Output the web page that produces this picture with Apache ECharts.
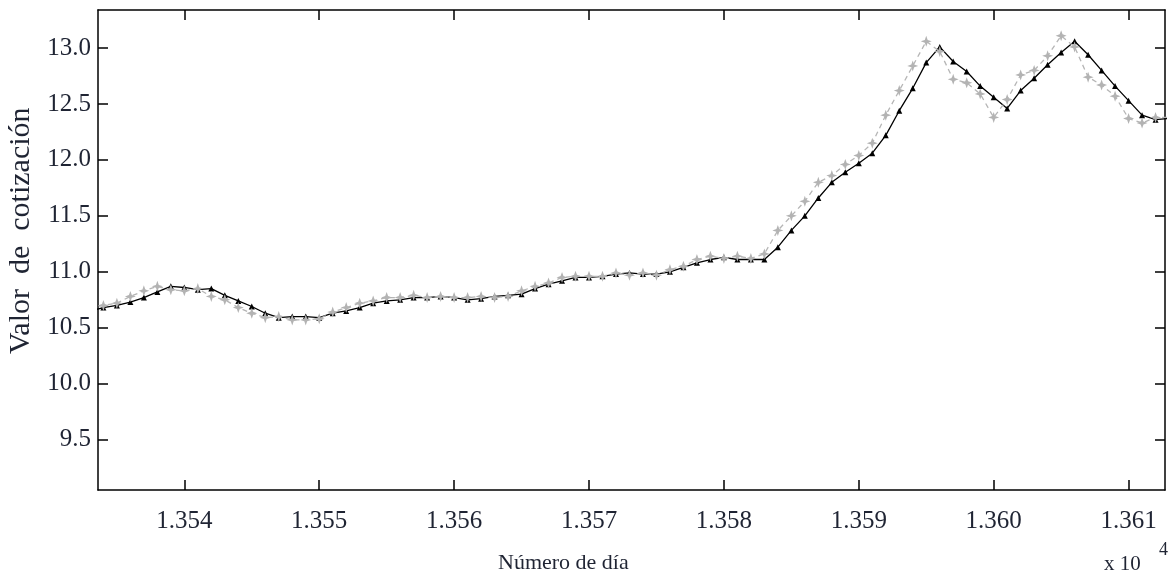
<!DOCTYPE html>
<html>
<head>
<meta charset="utf-8">
<script src="https://cdn.jsdelivr.net/npm/echarts@6/dist/echarts.min.js"></script>
<style>
html,body{margin:0;padding:0;background:#fff;}
#c{width:1175px;height:579px;}
</style>
</head>
<body>
<div id="c"></div>
<script>
// ---- data ----
const days = [
  13533,13534,13535,13536,13537,13538,13539,13540,13541,13542,
  13543,13544,13545,13546,13547,13548,13549,13550,13551,13552,
  13553,13554,13555,13556,13557,13558,13559,13560,13561,13562,
  13563,13564,13565,13566,13567,13568,13569,13570,13571,13572,
  13573,13574,13575,13576,13577,13578,13579,13580,13581,13582,
  13583,13584,13585,13586,13587,13588,13589,13590,13591,13592,
  13593,13594,13595,13596,13597,13598,13599,13600,13601,13602,
  13603,13604,13605,13606,13607,13608,13609,13610,13611,13612,
  13613
];
const realValues = [
  10.65,10.68,10.70,10.73,10.77,10.82,10.87,10.86,10.84,10.85,
  10.79,10.74,10.69,10.63,10.59,10.60,10.60,10.59,10.63,10.65,
  10.68,10.72,10.74,10.75,10.77,10.77,10.78,10.77,10.75,10.76,
  10.78,10.79,10.80,10.85,10.89,10.92,10.95,10.95,10.96,10.98,
  10.99,10.98,10.98,11.00,11.04,11.08,11.11,11.13,11.11,11.11,
  11.11,11.22,11.37,11.50,11.66,11.80,11.89,11.97,12.06,12.22,
  12.44,12.64,12.87,13.01,12.88,12.79,12.66,12.56,12.46,12.62,
  12.73,12.85,12.96,13.06,12.94,12.80,12.66,12.53,12.40,12.36,
  12.37
];
const predictedValues = [
  10.68,10.70,10.72,10.78,10.83,10.87,10.84,10.83,10.85,10.78,
  10.75,10.68,10.63,10.59,10.60,10.57,10.57,10.58,10.64,10.68,
  10.72,10.74,10.77,10.77,10.79,10.77,10.78,10.77,10.77,10.78,
  10.77,10.78,10.83,10.87,10.90,10.95,10.96,10.96,10.96,10.99,
  10.97,10.99,10.97,11.02,11.05,11.11,11.14,11.12,11.14,11.12,
  11.16,11.37,11.50,11.63,11.80,11.86,11.96,12.04,12.15,12.40,
  12.62,12.84,13.06,12.97,12.72,12.69,12.59,12.38,12.54,12.76,
  12.80,12.93,13.11,13.01,12.74,12.67,12.57,12.37,12.33,12.38,
  12.38
];
const xTickValues = [13540,13550,13560,13570,13580,13590,13600,13610];
const yTickValues = [9.5,10.0,10.5,11.0,11.5,12.0,12.5,13.0];
const xTitle = 'Número de día';
const yTitle = 'Valor  de  cotización';

// ---- chart ----
const X_MIN = 13533.6, X_MAX = 13612.7;
const Y_MIN = 9.05, Y_MAX = 13.34;
const FONT = '"Liberation Serif","Times New Roman",serif';
const TXT = '#1f2433';

const realData = days.map((d, i) => [d, realValues[i]]);
const predData = days.map((d, i) => [d, predictedValues[i]]);

const starPath = 'path://M0,-10 L2.6,-2.6 L10,0 L2.6,2.6 L0,10 L-2.6,2.6 L-10,0 L-2.6,-2.6 Z';

function xAxisCfg(pos, labels) {
  return {
    type: 'value', position: pos, min: X_MIN, max: X_MAX, splitNumber: 8,
    axisLine: { show: true, onZero: false, lineStyle: { color: '#000', width: 1.5 } },
    axisTick: { show: true, inside: true, length: 10, lineStyle: { color: '#000', width: 1.5 },
      customValues: xTickValues },
    axisLabel: { show: labels, margin: 19,
      color: TXT, fontFamily: FONT, fontSize: 25, customValues: xTickValues,
      formatter: v => (v / 10000).toFixed(3) },
    splitLine: { show: false }
  };
}
function yAxisCfg(pos, labels) {
  return {
    type: 'value', position: pos, min: Y_MIN, max: Y_MAX, splitNumber: 9,
    axisLine: { show: true, onZero: false, lineStyle: { color: '#000', width: 1.5 } },
    axisTick: { show: true, inside: true, length: 10, lineStyle: { color: '#000', width: 1.5 },
      customValues: yTickValues },
    axisLabel: { show: labels, margin: 7,
      color: TXT, fontFamily: FONT, fontSize: 25, customValues: yTickValues,
      formatter: v => v.toFixed(1) },
    splitLine: { show: false }
  };
}

const chart = echarts.init(document.getElementById('c'), null, { renderer: 'canvas' });
chart.setOption({
  animation: false,
  backgroundColor: '#fff',
  grid: { left: 98, right: 10, top: 10, bottom: 89, containLabel: false },
  xAxis: [xAxisCfg('bottom', true), xAxisCfg('top', false)],
  yAxis: [yAxisCfg('left', true), yAxisCfg('right', false)],
  series: [
    {
      type: 'line', name: 'real', data: realData, xAxisIndex: 0, yAxisIndex: 0,
      symbol: 'triangle', symbolSize: 6, showSymbol: true,
      lineStyle: { color: '#000', width: 1.3 },
      itemStyle: { color: '#000' }, z: 2, clip: true
    },
    {
      type: 'line', name: 'pred', data: predData, xAxisIndex: 0, yAxisIndex: 0,
      symbol: starPath, symbolSize: 11, showSymbol: true,
      lineStyle: { color: '#b5b5b5', width: 1.3, type: [5, 4] },
      itemStyle: { color: '#b3b3b3' }, z: 3, clip: true
    }
  ],
  graphic: [
    { type: 'text', left: 568 - 70, top: 552,
      style: { text: xTitle, fill: TXT, font: '22px ' + FONT } },
    { type: 'text', x: 6, y: 354, rotation: Math.PI / 2,
      style: { text: yTitle, fill: TXT, font: '30px ' + FONT } },
    { type: 'text', left: 1104, top: 554,
      style: { text: 'x 10', fill: TXT, font: '21px ' + FONT } },
    { type: 'text', left: 1159, top: 541,
      style: { text: '4', fill: TXT, font: '18px ' + FONT } }
  ]
});
</script>
</body>
</html>
